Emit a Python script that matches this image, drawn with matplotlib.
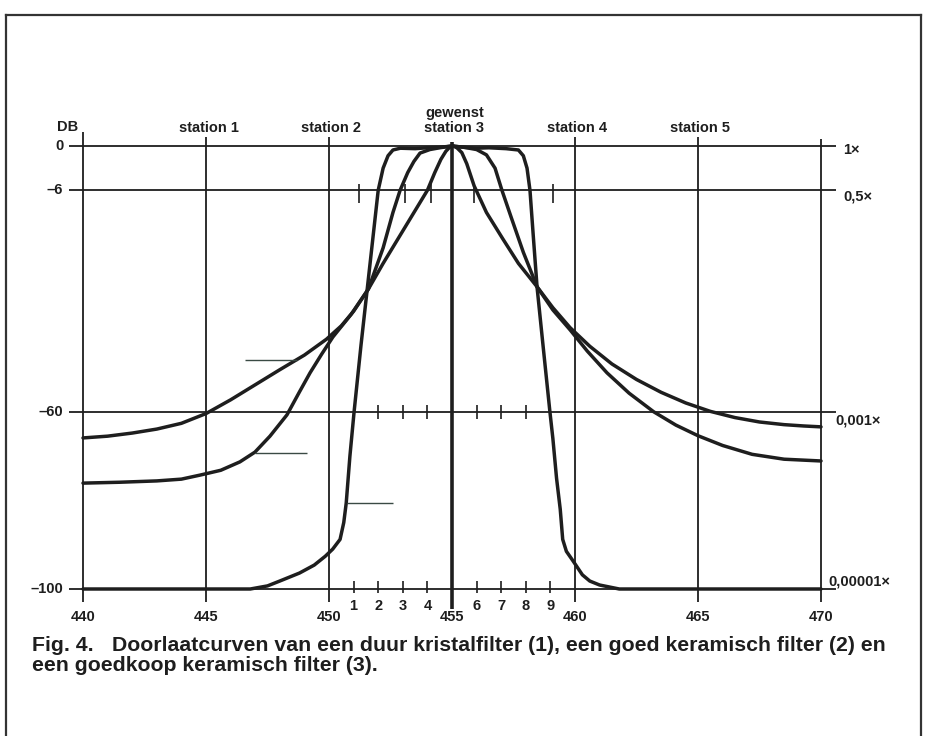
import matplotlib
matplotlib.use("Agg")
import matplotlib.pyplot as plt
from matplotlib.lines import Line2D

# --- values (kHz, level in drawing units) ---
freq_ticks = [440, 445, 450, 455, 460, 465, 470]
level_lines = [0, -10, -60, -100]          # the -6 dB line is drawn lower on the original
level_labels = ['0', '–6', '–60', '–100']
ratio_labels = ['1×', '0,5×', '0,001×', '0,00001×']
station_freqs = [445, 450, 460, 465]
station_names = ['station 1', 'station 2', 'station 4', 'station 5']
ticks_6 = [451.2, 453.1, 454.15, 455.9, 459.1]
ticks_60 = [452, 453, 454, 456, 457, 458]
ticks_100 = [451, 452, 453, 454, 456, 457, 458, 459]
ticks_100_labels = ['1', '2', '3', '4', '6', '7', '8', '9']

# (1) crystal filter
crystal_f = [440, 446.8, 447.5, 448.0, 448.8, 449.4, 449.85, 450.15, 450.45, 450.6,
             450.7, 450.85, 451.02, 451.3, 451.6, 451.8, 452.0, 452.2, 452.4, 452.6,
             452.9, 453.5, 454.0, 454.5, 455.0, 455.5, 456.0, 456.5, 457.2, 457.7,
             457.9, 458.05, 458.17, 458.3, 458.46, 458.7, 458.98, 459.1, 459.25, 459.4,
             459.5, 459.65, 459.9, 460.3, 460.6, 461.0, 461.8, 470]
crystal_db = [-100, -100, -99.3, -98.2, -96.4, -94.6, -92.6, -91.0, -88.8, -85,
              -80.6, -70, -60, -45, -30, -20, -10, -5, -2.2, -0.9,
              -0.5, -0.6, -0.4, -0.3, 0, -0.3, -0.5, -0.4, -0.6, -0.9,
              -2.2, -5, -10, -20, -32, -45, -60, -66, -75, -82,
              -88.8, -91.5, -93.5, -96.8, -98.2, -99.1, -100, -100]

# (2) good ceramic filter
good_f = [440, 441.5, 443, 444, 444.75, 445.6, 446.38, 446.99, 447.6, 448.29,
          448.8, 449.23, 449.7, 450.16, 450.9, 451.6, 452.2, 452.6, 452.89, 453.2,
          453.45, 453.7, 454.1, 454.5, 455.0, 455.5, 456.0, 456.4, 456.75, 457.03,
          457.4, 457.9, 458.46, 459.1, 459.8, 460.5, 461.3, 462.2, 463.2, 464.1,
          465.0, 466.0, 467.2, 468.5, 470]
good_db = [-76.1, -75.9, -75.6, -75.2, -74.3, -73.2, -71.3, -69.1, -65.5, -60.7,
           -55.5, -51.2, -47, -43.1, -38, -32.3, -23, -15, -10, -6,
           -3.5, -1.6, -0.8, -0.4, 0, -0.3, -0.8, -2, -5, -10,
           -16, -24, -31.8, -37, -41.5, -46.3, -51.2, -55.8, -60, -63,
           -65.4, -67.6, -69.6, -70.7, -71.1]

# (3) cheap ceramic filter
cheap_f = [440, 441, 442, 443, 444, 445, 446, 447, 448, 449,
           449.9, 450.5, 451.0, 451.6, 452.2, 452.8, 453.4, 454.0, 454.3, 454.55,
           454.75, 454.9, 455.05, 455.2, 455.4, 455.6, 455.9, 456.4, 457.07, 457.7,
           458.46, 459.1, 459.8, 460.6, 461.5, 462.5, 463.5, 464.5, 465.5, 466.5,
           467.5, 468.5, 469.3, 470]
cheap_db = [-65.9, -65.5, -64.8, -63.9, -62.6, -60.4, -57.3, -53.9, -50.5, -47.2,
            -43.6, -40.6, -37.3, -32.3, -26.5, -21, -15.5, -10, -6, -3,
            -1.2, -0.3, 0, -0.4, -1.5, -4, -9, -15, -21, -26.5,
            -31.8, -36.5, -41, -45.2, -49.2, -52.7, -55.6, -58, -59.9, -61.3,
            -62.3, -62.9, -63.2, -63.4]

# short leader lines next to the curves
leader_y = [-48.3, -69.3, -80.6]
leader_x0 = [446.6, 447.0, 450.75]
leader_x1 = [448.7, 449.1, 452.6]

ink = '#1e1e1e'
font = ['Liberation Sans', 'DejaVu Sans']

fig = plt.figure(figsize=(9.27, 7.36), dpi=100)
ax = fig.add_axes([83 / 927, 1 - 589 / 736, (821 - 83) / 927, (589 - 146) / 736])
ax.set_xlim(440, 470)
ax.set_ylim(-100, 0)
ax.axis('off')

# grid
ax.hlines(level_lines, 439.45, 470.6, color=ink, lw=1.3, clip_on=False)
vtops = [3.2, 2, 2, 1, 2, 2, 1.5]
for f, top in zip(freq_ticks, vtops):
    if f == 455:
        ax.vlines(f, -104.5, top, color=ink, lw=2.6, clip_on=False)
    else:
        ax.vlines(f, -103, top, color=ink, lw=1.3, clip_on=False)

ax.vlines(ticks_6, -12.8, -8.6, color=ink, lw=1.2, clip_on=False)
ax.vlines(ticks_60, -61.6, -58.4, color=ink, lw=1.2, clip_on=False)
ax.vlines(ticks_100, -101, -98.2, color=ink, lw=1.2, clip_on=False)

# curves
for fx, db in [(crystal_f, crystal_db), (good_f, good_db), (cheap_f, cheap_db)]:
    ax.plot(fx, db, color=ink, lw=2.5, solid_joinstyle='round',
            solid_capstyle='round', clip_on=False)

ax.hlines(leader_y, leader_x0, leader_x1, color='#3a4a44', lw=1.0)

# labels
tk = dict(color=ink, family=font, fontweight='bold', fontsize=10.5)
for f in freq_ticks:
    ax.text(f, -106.3, str(f), ha='center', va='center', **tk)
for f, s in zip(ticks_100, ticks_100_labels):
    ax.text(f, -103.9, s, ha='center', va='center', **tk)
for y, s in zip(level_lines, level_labels):
    ax.text(439.2, y, s, ha='right', va='center', **tk)
ax.text(438.95, 4.3, 'DB', ha='left', va='center', **tk)
for f, s in zip(station_freqs, station_names):
    ax.text(f + 0.1, 4.0, s, ha='center', va='center', **tk)
ax.text(455.1, 7.5, 'gewenst', ha='center', va='center', **tk)
ax.text(455.1, 4.0, 'station 3', ha='center', va='center', **tk)
ratio_y = [-0.9, -11.3, -62, -98.2]
ratio_x = [470.9, 470.9, 470.6, 470.3]
for x, y, s in zip(ratio_x, ratio_y, ratio_labels):
    ax.text(x, y, s, ha='left', va='center', **tk)

# caption
cap = dict(color=ink, family=font, fontweight='bold', fontsize=15.3, va='baseline')
fig.text(32 / 927, 1 - 651 / 736, 'Fig. 4.', **cap)
fig.text(112 / 927, 1 - 651 / 736,
         'Doorlaatcurven van een duur kristalfilter (1), een goed keramisch filter (2) en', **cap)
fig.text(32 / 927, 1 - 671 / 736, 'een goedkoop keramisch filter (3).', **cap)

# frame around the figure
fx0, fx1, fy1 = 5.5 / 927, 920.5 / 927, 1 - 15 / 736
fig.add_artist(Line2D([fx0, fx1], [fy1, fy1], color='#333333', lw=1.6))
fig.add_artist(Line2D([fx0, fx0], [0, fy1], color='#333333', lw=1.6))
fig.add_artist(Line2D([fx1, fx1], [0, fy1], color='#333333', lw=1.6))

fig.savefig('out.png', dpi=100, facecolor='white')
